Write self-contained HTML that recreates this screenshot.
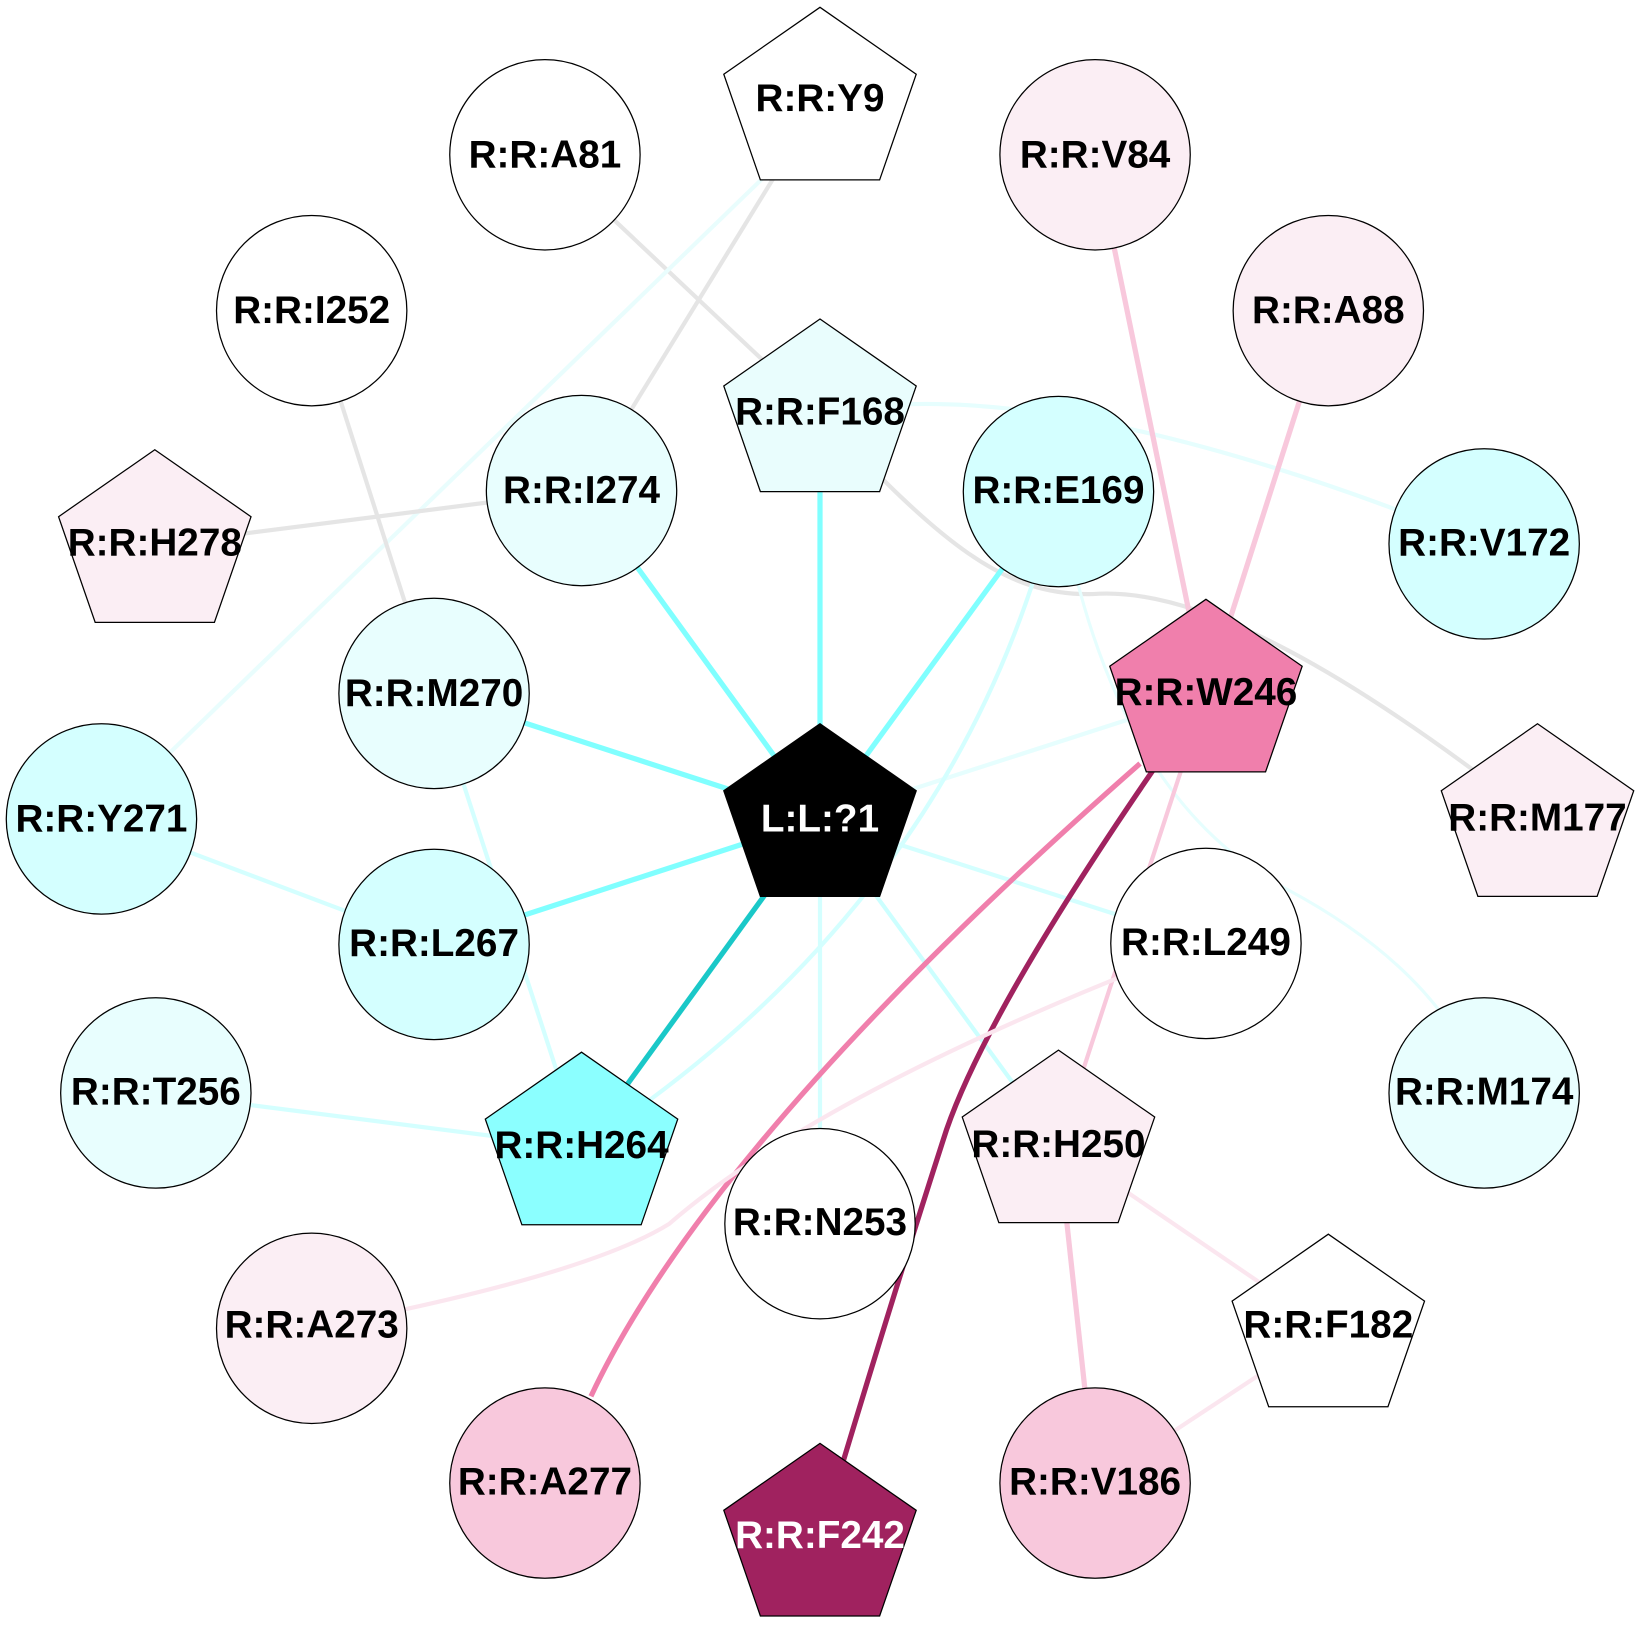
<!DOCTYPE html>
<html><head><meta charset="utf-8"><style>html,body{margin:0;padding:0;background:#fff}svg{display:block}</style></head>
<body>
<svg xmlns="http://www.w3.org/2000/svg" width="1640" height="1640" viewBox="0 0 1568 1568">
<defs><polygon id="pg" points="0,-91 92,-27 57,74 -57,74 -92,-27"/></defs>
<g fill="none" stroke-linecap="butt">
<line x1="521" y1="148" x2="784" y2="396" stroke="#e5e5e5" stroke-width="4"/>
<line x1="784" y1="98" x2="556" y2="469" stroke="#e5e5e5" stroke-width="4"/>
<line x1="740" y1="160" x2="97" y2="783" stroke="#e9fdfd" stroke-width="4"/>
<line x1="298" y1="297" x2="415" y2="663" stroke="#e5e5e5" stroke-width="4"/>
<line x1="148" y1="521" x2="556" y2="469" stroke="#e5e5e5" stroke-width="4"/>
<path d="M784 396 Q1000 350 1419 520" stroke="#e6fefe" stroke-width="4"/>
<path d="M784 396 C900 520 960 570 1045 568 C1150 560 1300 650 1470 783" stroke="#e5e5e5" stroke-width="4"/>
<line x1="784" y1="396" x2="784" y2="783" stroke="#80ffff" stroke-width="5"/>
<line x1="556" y1="469" x2="784" y2="783" stroke="#80ffff" stroke-width="5"/>
<line x1="1012" y1="470" x2="784" y2="783" stroke="#80ffff" stroke-width="5"/>
<line x1="415" y1="663" x2="784" y2="783" stroke="#80ffff" stroke-width="5"/>
<line x1="415" y1="903" x2="784" y2="783" stroke="#80ffff" stroke-width="5"/>
<line x1="556" y1="1097" x2="784" y2="783" stroke="#1ac8c8" stroke-width="5"/>
<line x1="784" y1="783" x2="1153" y2="664" stroke="#e6fefe" stroke-width="4"/>
<line x1="784" y1="783" x2="1153" y2="902" stroke="#d4ffff" stroke-width="4"/>
<line x1="784" y1="783" x2="784" y2="1170" stroke="#d4ffff" stroke-width="4"/>
<line x1="784" y1="783" x2="1012" y2="1095" stroke="#ccffff" stroke-width="4"/>
<path d="M1012 470 Q920 860 556 1097" stroke="#d4ffff" stroke-width="4"/>
<path d="M1012 470 Q1060 760 1230 850 Q1380 930 1419 1045" stroke="#e6fefe" stroke-width="3"/>
<line x1="415" y1="663" x2="556" y2="1097" stroke="#d4ffff" stroke-width="4"/>
<line x1="97" y1="783" x2="415" y2="903" stroke="#d4ffff" stroke-width="4"/>
<line x1="149" y1="1045" x2="556" y2="1097" stroke="#d4ffff" stroke-width="4"/>
<line x1="1047" y1="148" x2="1153" y2="664" stroke="#f8c8dc" stroke-width="5"/>
<line x1="1270" y1="297" x2="1153" y2="664" stroke="#f8c8dc" stroke-width="5"/>
<line x1="1153" y1="664" x2="1012" y2="1095" stroke="#f8c8dc" stroke-width="4"/>
<path d="M1090 730 Q680 1090 565 1335" stroke="#f07fac" stroke-width="5"/>
<path d="M1153 664 Q950 950 905 1080 Q850 1250 784 1471" stroke="#a0225f" stroke-width="5"/>
<path d="M1153 902 Q790 1040 640 1170 Q560 1220 298 1270" stroke="#fbe6ef" stroke-width="4"/>
<line x1="1012" y1="1095" x2="1270" y2="1271" stroke="#fbe6ef" stroke-width="4"/>
<line x1="1012" y1="1095" x2="1047" y2="1418" stroke="#f8c8dc" stroke-width="5"/>
<line x1="1270" y1="1271" x2="1047" y2="1418" stroke="#fbe6ef" stroke-width="4"/>
</g>
<g stroke="#000" stroke-width="1.2">
<circle cx="521" cy="148" r="91" fill="#fff"/>
<circle cx="1047" cy="148" r="91" fill="#fbeef4"/>
<circle cx="298" cy="297" r="91" fill="#fff"/>
<circle cx="1270" cy="297" r="91" fill="#fbeef4"/>
<circle cx="556" cy="469" r="91" fill="#e8fefe"/>
<circle cx="1012" cy="470" r="91" fill="#d4ffff"/>
<circle cx="1419" cy="520" r="91" fill="#d4ffff"/>
<circle cx="415" cy="663" r="91" fill="#e8fefe"/>
<circle cx="97" cy="783" r="91" fill="#d4ffff"/>
<circle cx="415" cy="903" r="91" fill="#d4ffff"/>
<circle cx="1153" cy="902" r="91" fill="#fff"/>
<circle cx="149" cy="1045" r="91" fill="#e8fefe"/>
<circle cx="1419" cy="1045" r="91" fill="#e8fefe"/>
<circle cx="784" cy="1170" r="91" fill="#fff"/>
<circle cx="298" cy="1270" r="91" fill="#fbeef4"/>
<circle cx="521" cy="1418" r="91" fill="#f8c8dc"/>
<circle cx="1047" cy="1418" r="91" fill="#f8c8dc"/>
<use href="#pg" x="784" y="98" fill="#fff"/>
<use href="#pg" x="784" y="396" fill="#e9fdfd"/>
<use href="#pg" x="148" y="521" fill="#fbeef4"/>
<use href="#pg" x="1153" y="664" fill="#f07fac"/>
<use href="#pg" x="784" y="783" fill="#000"/>
<use href="#pg" x="1470" y="783" fill="#fbeef4"/>
<use href="#pg" x="556" y="1097" fill="#8bffff"/>
<use href="#pg" x="1012" y="1095" fill="#fbeef4"/>
<use href="#pg" x="1270" y="1271" fill="#fff"/>
<use href="#pg" x="784" y="1471" fill="#a0225f"/>
</g>
<g font-family="Liberation Sans, Arial, sans-serif" font-weight="bold" font-size="37" text-anchor="middle" fill="#000">
<text x="521" y="160">R:R:A81</text>
<text x="784" y="106">R:R:Y9</text>
<text x="1047" y="160">R:R:V84</text>
<text x="298" y="309">R:R:I252</text>
<text x="1270" y="309">R:R:A88</text>
<text x="784" y="406">R:R:F168</text>
<text x="556" y="481">R:R:I274</text>
<text x="1012" y="481">R:R:E169</text>
<text x="148" y="531">R:R:H278</text>
<text x="1419" y="531">R:R:V172</text>
<text x="415" y="675">R:R:M270</text>
<text x="1153" y="674">R:R:W246</text>
<text x="784" y="795" fill="#fff">L:L:?1</text>
<text x="97" y="795">R:R:Y271</text>
<text x="1470" y="794">R:R:M177</text>
<text x="415" y="914">R:R:L267</text>
<text x="1153" y="913">R:R:L249</text>
<text x="149" y="1056">R:R:T256</text>
<text x="1419" y="1056">R:R:M174</text>
<text x="556" y="1107">R:R:H264</text>
<text x="1012" y="1106">R:R:H250</text>
<text x="784" y="1181">R:R:N253</text>
<text x="1270" y="1279">R:R:F182</text>
<text x="298" y="1279">R:R:A273</text>
<text x="521" y="1429">R:R:A277</text>
<text x="1047" y="1429">R:R:V186</text>
<text x="784" y="1480" fill="#fff">R:R:F242</text>
</g>
</svg>
</body></html>
